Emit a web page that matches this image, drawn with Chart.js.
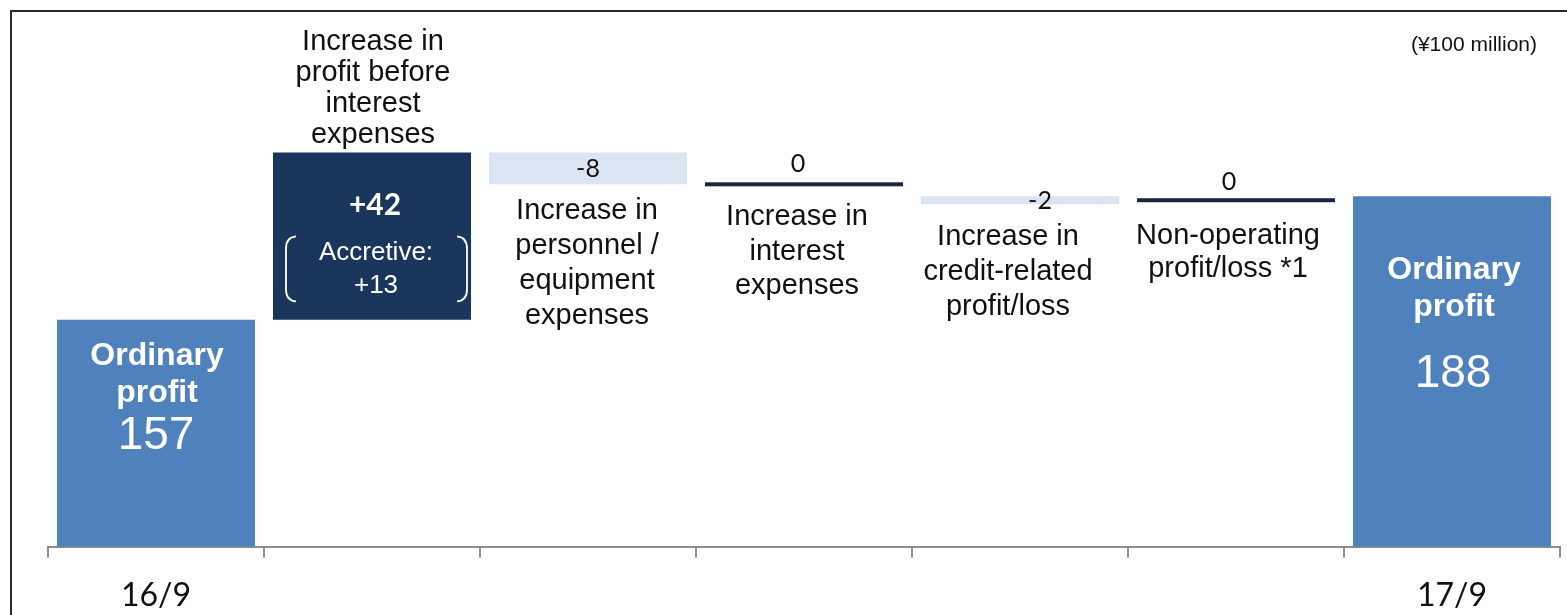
<!DOCTYPE html>
<html>
<head>
<meta charset="utf-8">
<script src="https://cdn.jsdelivr.net/npm/chart.js@4.4.1/dist/chart.umd.min.js"></script>
<style>
  html, body { margin: 0; padding: 0; background: #ffffff; overflow: hidden; }
  #wrap { position: relative; width: 1567px; height: 615px; overflow: hidden; }
  #chart { position: absolute; left: 0; top: 0; }
  #frame {
    position: absolute; left: 10px; top: 10px; width: 1600px; height: 700px;
    border-left: 2px solid #2a2a2a; border-top: 2px solid #2a2a2a;
    pointer-events: none; box-sizing: border-box;
  }
</style>
</head>
<body>
<div id="wrap">
  <canvas id="chart" width="1567" height="634"></canvas>
  <div id="frame"></div>
</div>
<script>
// Ordinary profit bridge, 16/9 -> 17/9 (units: ¥100 million)
const categories = ['16/9', '', '', '', '', '', '17/9'];
const totals = [157, null, null, null, null, null, 188];
const changes = [null, 42, -8, 0, -2, 0, null];
// level each step starts from
const stepStarts = [null, 157, 199, 191, 188, 187, null];
const valueLabels = ['157', '+42', '-8', '0', '-2', '0', '188'];
const stepLabels = [
  null,
  ['Increase in', 'profit before', 'interest', 'expenses'],
  ['Increase in', 'personnel /', 'equipment', 'expenses'],
  ['Increase in', 'interest', 'expenses'],
  ['Increase in', 'credit-related', 'profit/loss'],
  ['Non-operating', 'profit/loss *1'],
  null
];
const totalTitle = ['Ordinary', 'profit'];
const accretiveLabel = ['Accretive:', '+13'];
const unitLabel = '(¥100 million)';

const Y_MIN = 100, Y_MAX = 228;
const BAR_PCT = 0.917;

const C_TOTAL = '#4f81bd';
const C_UP = '#1b365d';
const C_DOWN = '#dbe5f1';
const C_FLAT = '#17273f';
const C_TEXT = '#111111';

const ARIAL = '"Liberation Sans", Arial, sans-serif';
const CAL = 'Lato, "Open Sans", sans-serif';

const barData = categories.map((c, i) => {
  if (totals[i] !== null) return totals[i];
  return [stepStarts[i], stepStarts[i] + changes[i]];
});
const barColors = categories.map((c, i) => {
  if (totals[i] !== null) return C_TOTAL;
  return changes[i] > 0 ? C_UP : C_DOWN;
});

function txt(ctx, s, x, y, font, color, align) {
  ctx.font = font;
  ctx.fillStyle = color;
  ctx.textAlign = align || 'center';
  ctx.textBaseline = 'middle';
  ctx.fillText(s, x, y);
}

const annotate = {
  id: 'annotate',
  afterDatasetsDraw(chart) {
    const ctx = chart.ctx;
    const xs = chart.scales.x, ys = chart.scales.y;
    const meta = chart.getDatasetMeta(0);
    const catW = xs.getPixelForValue(1) - xs.getPixelForValue(0);
    const half = catW * BAR_PCT / 2;
    ctx.save();

    // flat steps drawn as a rule at their level
    changes.forEach((d, i) => {
      if (d === 0) {
        const cx = xs.getPixelForValue(i);
        const y = ys.getPixelForValue(stepStarts[i]);
        ctx.fillStyle = C_FLAT;
        ctx.fillRect(cx - half, y - 2, half * 2, 4);
      }
    });

    const geom = i => {
      const el = meta.data[i];
      if (changes[i] === 0) {
        const y = ys.getPixelForValue(stepStarts[i]);
        return { cx: xs.getPixelForValue(i), top: y, bottom: y };
      }
      return { cx: el.x, top: Math.min(el.y, el.base), bottom: Math.max(el.y, el.base) };
    };

    // totals
    let g = geom(0);
    txt(ctx, totalTitle[0], g.cx + 1, g.top + 37, 'bold 32px ' + ARIAL, '#ffffff');
    txt(ctx, totalTitle[1], g.cx + 1, g.top + 74, 'bold 32px ' + ARIAL, '#ffffff');
    txt(ctx, valueLabels[0], g.cx, g.top + 117, '46px ' + ARIAL, '#ffffff');
    g = geom(6);
    txt(ctx, totalTitle[0], g.cx + 2, g.top + 74, 'bold 32px ' + ARIAL, '#ffffff');
    txt(ctx, totalTitle[1], g.cx + 2, g.top + 111, 'bold 32px ' + ARIAL, '#ffffff');
    txt(ctx, valueLabels[6], g.cx + 1, g.top + 178, '46px ' + ARIAL, '#ffffff');

    // step 1: label above, value and note inside
    g = geom(1);
    stepLabels[1].forEach((s, k, arr) => {
      txt(ctx, s, g.cx + 1, g.top - 17 - (arr.length - 1 - k) * 31, '29px ' + ARIAL, C_TEXT);
    });
    txt(ctx, valueLabels[1], g.cx + 3, g.top + 53, 'bold 30px ' + CAL, '#ffffff');
    txt(ctx, accretiveLabel[0], g.cx + 4, g.top + 100, '26px ' + ARIAL, '#ffffff');
    txt(ctx, accretiveLabel[1], g.cx + 4, g.top + 133, '26px ' + ARIAL, '#ffffff');
    // brackets around the note
    ctx.strokeStyle = '#ffffff';
    ctx.lineWidth = 1.8;
    const bt = g.top + 84, bb = g.top + 149;
    const lx = g.cx - 86, rx = g.cx + 95;
    ctx.beginPath();
    ctx.moveTo(lx + 10, bt);
    ctx.quadraticCurveTo(lx, bt + 1, lx, bt + 12);
    ctx.lineTo(lx, bb - 12);
    ctx.quadraticCurveTo(lx, bb - 1, lx + 10, bb);
    ctx.moveTo(rx - 10, bt);
    ctx.quadraticCurveTo(rx, bt + 1, rx, bt + 12);
    ctx.lineTo(rx, bb - 12);
    ctx.quadraticCurveTo(rx, bb - 1, rx - 10, bb);
    ctx.stroke();

    // step 2
    g = geom(2);
    txt(ctx, valueLabels[2], g.cx, (g.top + g.bottom) / 2 + 1, '25px ' + CAL, C_TEXT);
    stepLabels[2].forEach((s, k) => {
      txt(ctx, s, g.cx - 1, g.bottom + 27 + k * 35, '29px ' + ARIAL, C_TEXT);
    });

    // step 3
    g = geom(3);
    txt(ctx, valueLabels[3], g.cx - 6, g.top - 20, '25px ' + CAL, C_TEXT);
    stepLabels[3].forEach((s, k) => {
      txt(ctx, s, g.cx - 7, g.top + 33 + k * 34.5, '29px ' + ARIAL, C_TEXT);
    });

    // step 4
    g = geom(4);
    txt(ctx, valueLabels[4], g.cx + 20, (g.top + g.bottom) / 2 + 1, '25px ' + CAL, C_TEXT);
    stepLabels[4].forEach((s, k) => {
      txt(ctx, s, g.cx - 12, g.bottom + 33 + k * 35, '29px ' + ARIAL, C_TEXT);
    });

    // step 5
    g = geom(5);
    txt(ctx, valueLabels[5], g.cx - 7, g.top - 18, '25px ' + CAL, C_TEXT);
    stepLabels[5].forEach((s, k) => {
      txt(ctx, s, g.cx - 8, g.top + 36 + k * 33, '29px ' + ARIAL, C_TEXT);
    });

    // unit note
    txt(ctx, unitLabel, 1537, 45, '21px ' + ARIAL, C_TEXT, 'right');
    ctx.restore();
  }
};

new Chart(document.getElementById('chart'), {
  type: 'bar',
  data: {
    labels: categories,
    datasets: [{
      data: barData,
      backgroundColor: barColors,
      borderWidth: 0,
      categoryPercentage: 1,
      barPercentage: BAR_PCT
    }]
  },
  options: {
    responsive: false,
    animation: false,
    devicePixelRatio: 1,
    layout: { padding: { left: 48, right: 7, top: 37, bottom: 0 } },
    plugins: { legend: { display: false }, tooltip: { enabled: false }, title: { display: false } },
    scales: {
      y: { display: false, min: Y_MIN, max: Y_MAX },
      x: {
        offset: true,
        border: { display: true, color: '#8c8c8c', width: 2 },
        grid: { offset: true, drawOnChartArea: false, drawTicks: true, tickLength: 11, color: '#8c8c8c', lineWidth: 2 },
        ticks: { autoSkip: false, maxRotation: 0, padding: 19, color: C_TEXT, font: { family: CAL, size: 32 } }
      }
    }
  },
  plugins: [annotate]
});
</script>
</body>
</html>
